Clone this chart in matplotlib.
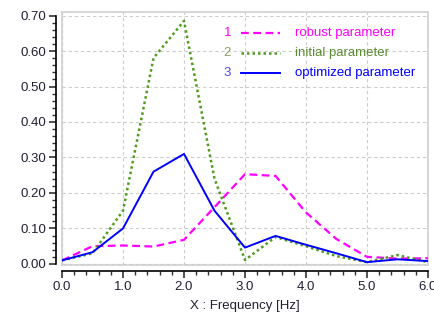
import matplotlib.pyplot as plt
import numpy as np
from matplotlib.lines import Line2D
from matplotlib.patches import Rectangle

plt.rcParams['font.family'] = ['Liberation Sans', 'DejaVu Sans']

# frequency points [Hz]
freq = [0.0, 0.5, 1.0, 1.5, 2.0, 2.5, 3.0, 3.5, 4.0, 4.5, 5.0, 5.5, 6.0]
robust = [0.010, 0.050, 0.052, 0.049, 0.068, 0.160, 0.253, 0.248, 0.145, 0.070, 0.020, 0.015, 0.016]
initial = [0.010, 0.030, 0.150, 0.580, 0.685, 0.240, 0.011, 0.076, 0.050, 0.022, 0.005, 0.025, 0.005]
optimized = [0.010, 0.033, 0.100, 0.260, 0.310, 0.150, 0.046, 0.079, 0.054, 0.030, 0.005, 0.013, 0.008]

names = ['robust parameter', 'initial parameter', 'optimized parameter']
line_cols = ['#ff00ff', '#4f9a1c', '#0000ff']
num_cols = ['#ff00ff', '#8aa060', '#4a4aff']
txt_cols = ['#ff00ff', '#5a8a30', '#0000ff']
styles = [dict(ls=(0, (3.5, 2)), lw=1.6), dict(ls=(0, (1, 1.2)), lw=1.8), dict(ls='-', lw=1.4)]
fs = 9.5

fig = plt.figure(figsize=(4.35, 3.2), dpi=100)
ax = fig.add_axes([62/435, 55/320, 366/435, 253/320])

for y, c, st in zip([robust, initial, optimized], line_cols, styles):
    ax.plot(freq, y, color=c, **st)

ax.set_xlim(0, 6.0)
ax.set_ylim(-0.003, 0.71)
ax.set_xticks(np.arange(0, 6.01, 1.0))
ax.set_xticks(np.arange(0, 6.01, 0.2), minor=True)
ax.set_yticks(np.arange(0, 0.701, 0.1))
ax.set_yticks(np.arange(0, 0.701, 0.02), minor=True)
ax.set_xticklabels(['%.1f' % v for v in np.arange(0, 6.01, 1.0)])
ax.set_yticklabels(['%.2f' % v for v in np.arange(0, 0.701, 0.1)])
ax.grid(True, which='major', ls=(0, (3, 2.5)), color='#cccccc', lw=0.8)

for s in ['top', 'right']:
    ax.spines[s].set_visible(False)
for s in ['left', 'bottom']:
    ax.spines[s].set_position(('outward', 4))
    ax.spines[s].set_color('black')
    ax.spines[s].set_linewidth(1.2)
ax.spines['left'].set_bounds(0, 0.70)
ax.spines['bottom'].set_bounds(0, 6.0)
ax.add_patch(Rectangle((0, 0), 1, 1, transform=ax.transAxes, fill=False,
                       ec='#d8d8d8', lw=1.5, clip_on=False, zorder=0))

ax.tick_params(which='major', direction='out', length=5, width=1.2, color='#333333',
               labelsize=fs, labelcolor='#202030', pad=2.5)
ax.tick_params(which='minor', direction='out', length=3, width=1.0, color='#333333')
ax.set_xlabel('X : Frequency [Hz]', fontsize=fs, color='#202030', labelpad=5)

# legend drawn by hand
for i, (nm, lc, nc, tc, st) in enumerate(zip(names, line_cols, num_cols, txt_cols, styles)):
    yy = 0.917 - i * 0.079
    ax.text(0.452, yy, str(i + 1), transform=ax.transAxes, color=nc, fontsize=fs,
            ha='center', va='center')
    ax.add_line(Line2D([0.49, 0.596], [yy, yy], transform=ax.transAxes, color=lc, **st))
    ax.text(0.636, yy, nm, transform=ax.transAxes, color=tc, fontsize=fs,
            ha='left', va='center')

fig.savefig('out.png', dpi=100)
